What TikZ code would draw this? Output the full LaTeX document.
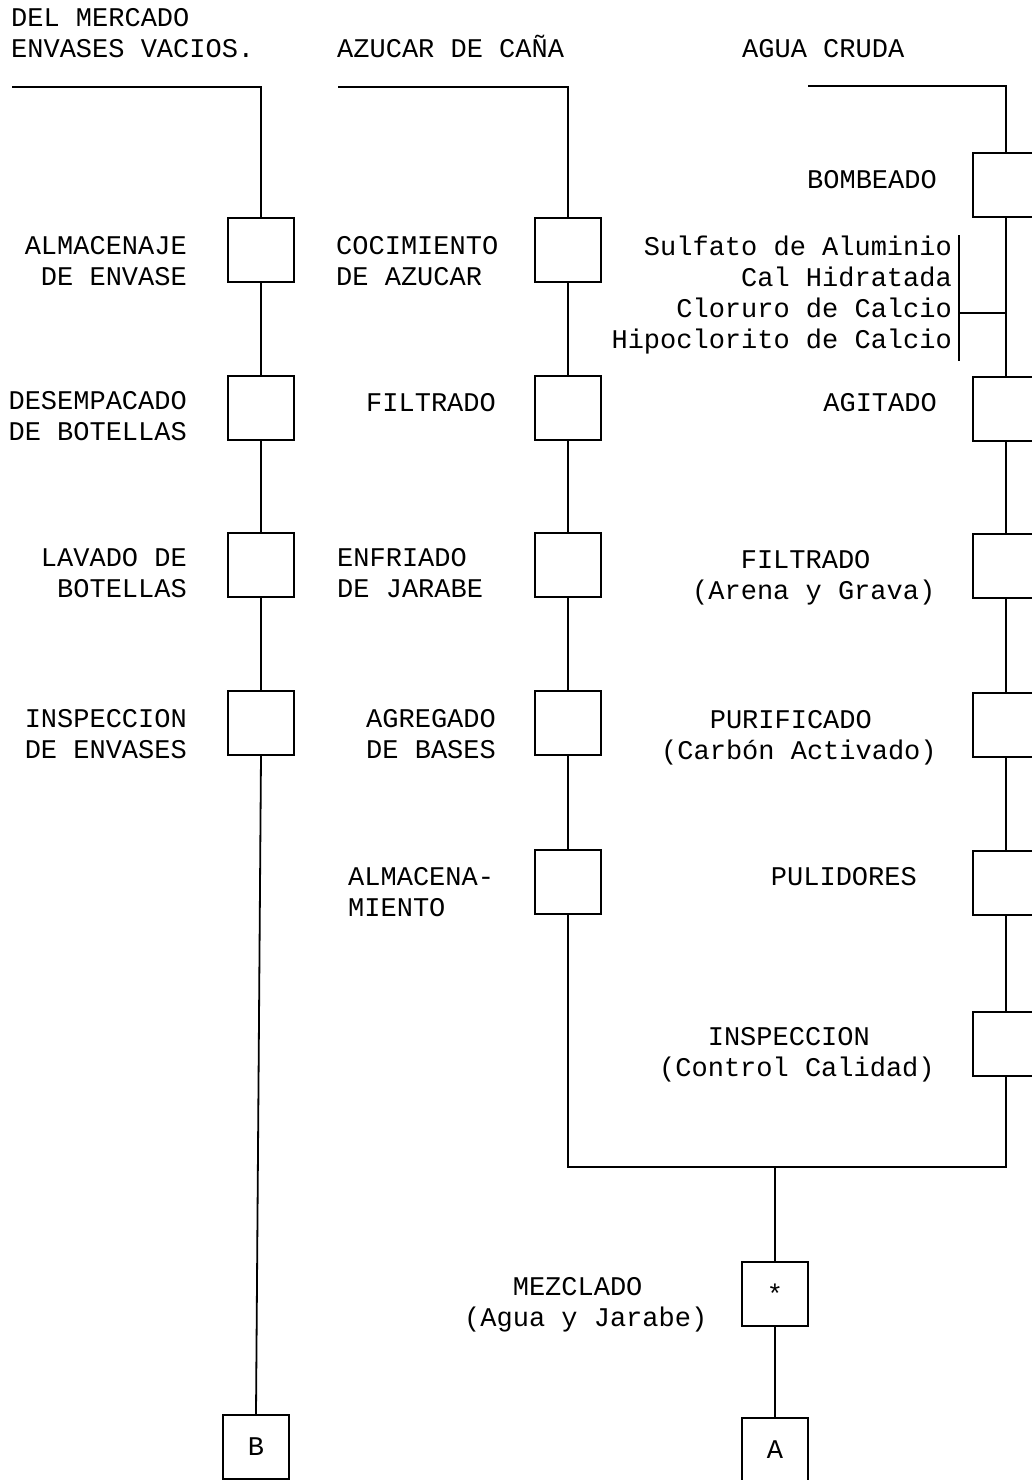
\documentclass[tikz,border=0pt]{standalone}
\usepackage{fontspec}
\newfontfamily\maquina{Liberation Mono}
\usetikzlibrary{positioning}

\tikzset{
  caja/.style={draw,line width=1.8pt,minimum width=66pt,minimum height=64pt,inner sep=0pt,anchor=north},
  texto/.style={font=\maquina\fontsize{27}{31}\selectfont,inner sep=0pt},
  linea/.style={line width=1.8pt}
}

\begin{document}
\begin{tikzpicture}[x=1pt,y=-1pt]
  \useasboundingbox (0,0) rectangle (1032,1480);
  \clip (0,0) rectangle (1032,1480);

  % cajas de cada linea
  \foreach \y [count=\n] in {217,375,532,690}
    \node[caja](L\n) at (261,\y){};
  \foreach \y [count=\n] in {217,375,532,690,849}
    \node[caja](C\n) at (568,\y){};
  \foreach \y [count=\n] in {152,376,533,692,850,1011}
    \node[caja](R\n) at (1006,\y){};
  \node[caja,texto](B) at (256,1414){B};
  \node[caja,texto](M) at (775,1261){*};
  \node[caja,texto](A) at (775,1417){A};

  % entradas (base = ultima linea)
  \node[texto,align=left,anchor=base west](hEnv) at (11,58){DEL MERCADO\\ENVASES VACIOS.};
  \node[texto,anchor=base west](hAzu) at (337,58){AZUCAR DE CAÑA};
  \node[texto,anchor=base west](hAgu) at (742,58){AGUA CRUDA};
  \coordinate (vacios) at (12,87);
  \coordinate (cana) at (338,87);
  \coordinate (cruda) at (808,86);

  % rotulos envases
  \node[texto,align=right,anchor=base east](tL1) at (187,285){ALMACENAJE\\DE ENVASE};
  \node[texto,align=right,anchor=base east](tL2) at (187,440){DESEMPACADO\\DE BOTELLAS};
  \node[texto,align=right,anchor=base east](tL3) at (187,597){LAVADO DE\\BOTELLAS};
  \node[texto,align=right,anchor=base east](tL4) at (187,758){INSPECCION\\DE ENVASES};

  % rotulos jarabe
  \node[texto,align=left,anchor=base west](tC1) at (336,285){COCIMIENTO\\DE AZUCAR};
  \node[texto,anchor=base west](tC2) at (366,411){FILTRADO};
  \node[texto,align=left,anchor=base west](tC3) at (337,597){ENFRIADO\\DE JARABE};
  \node[texto,align=left,anchor=base west](tC4) at (366,758){AGREGADO\\DE BASES};
  \node[texto,align=left,anchor=base west](tC5) at (348,916){ALMACENA-\\MIENTO};

  % rotulos agua
  \node[texto,anchor=base east](tR1) at (937,188){BOMBEADO};
  \node[texto,align=right,anchor=base east](quim) at (952,348){Sulfato de Aluminio\\Cal Hidratada\\Cloruro de Calcio\\Hipoclorito de Calcio};
  \node[texto,anchor=base east](tR2) at (937,411){AGITADO};
  \node[texto,align=left,anchor=base west](tR3) at (692,599){\phantom{XXX}FILTRADO\\(Arena y Grava)};
  \node[texto,align=left,anchor=base west](tR4) at (661,759){\phantom{XXX}PURIFICADO\\(Carbón Activado)};
  \node[texto,anchor=base east](tR5) at (917,885){PULIDORES};
  \node[texto,align=left,anchor=base west](tR6) at (659,1076){\phantom{XXX}INSPECCION\\(Control Calidad)};
  \node[texto,align=left,anchor=base west](tM) at (464,1326){\phantom{XXX}MEZCLADO\\(Agua y Jarabe)};

  % conexiones
  \draw[linea] (vacios) -| (L1.north);
  \foreach \a/\b in {L1/L2,L2/L3,L3/L4,L4/B}
    \draw[linea] (\a.south) -- (\b.north);
  \draw[linea] (cana) -| (C1.north);
  \foreach \a/\b in {C1/C2,C2/C3,C3/C4,C4/C5}
    \draw[linea] (\a.south) -- (\b.north);
  \draw[linea] (cruda) -| (R1.north);
  \foreach \a/\b in {R1/R2,R2/R3,R3/R4,R4/R5,R5/R6}
    \draw[linea] (\a.south) -- (\b.north);

  % dosificacion de quimicos
  \coordinate (llaveA) at (959,235);
  \coordinate (llaveB) at (959,361);
  \coordinate (dosis) at (959,313);
  \draw[linea] (llaveA) -- (llaveB);
  \draw[linea] (dosis) -- (dosis -| R1.south);

  % union agua y jarabe
  \coordinate (junta) at (775,1167);
  \draw[linea] (C5.south) |- (junta);
  \draw[linea] (R6.south) |- (junta);
  \draw[linea] (junta) -- (M.north);
  \draw[linea] (M.south) -- (A.north);
\end{tikzpicture}
\end{document}
